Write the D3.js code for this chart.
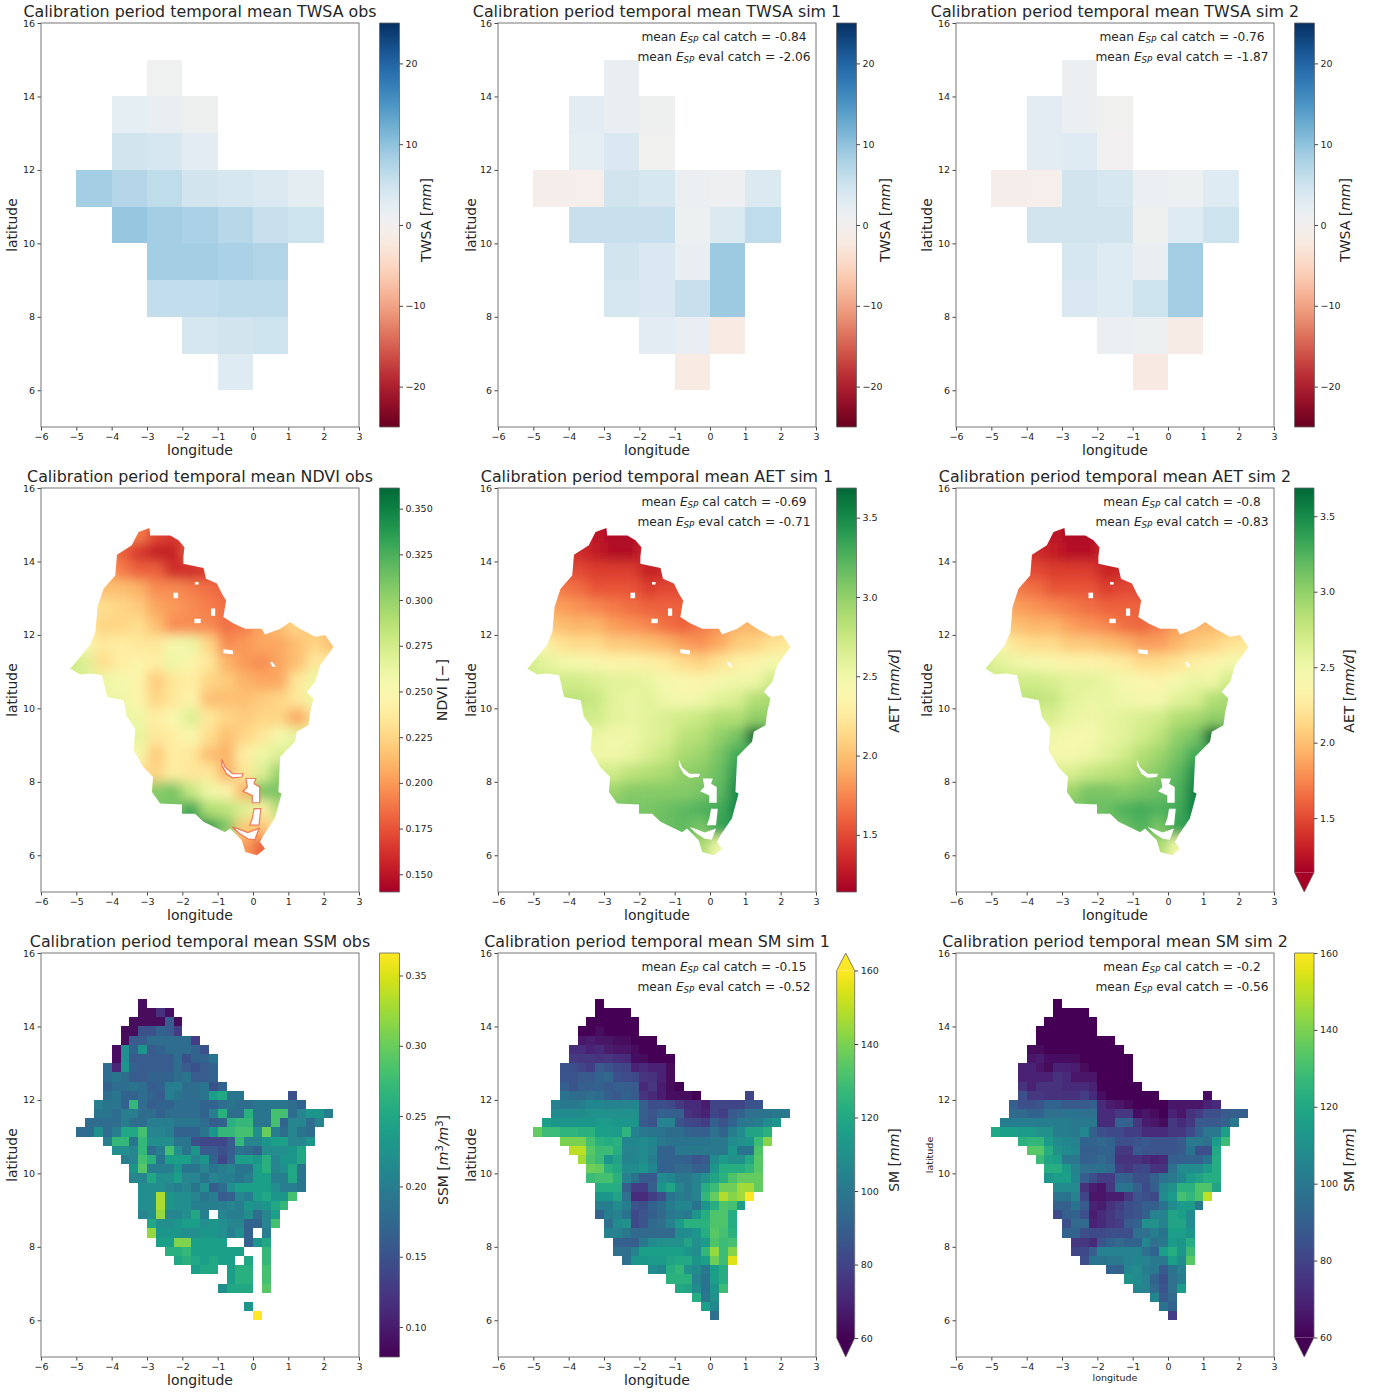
<!DOCTYPE html>
<html>
<head>
<meta charset="utf-8">
<script src="https://cdn.jsdelivr.net/npm/d3@7"></script>
<style>
  body { margin: 0; background: #fff; }
  text { font-family: "DejaVu Sans", sans-serif; fill: #262626; }
</style>
</head>
<body>
<svg id="fig" width="1375" height="1392"></svg>
<script>
var lonTicks = [-6, -5, -4, -3, -2, -1, 0, 1, 2, 3];
var latTicks = [6, 8, 10, 12, 14, 16];

// TWSA: 1 degree cells, each row starts at twsaStart and its top edge is twsaTops
var twsaTops = [15, 14, 13, 12, 11, 10, 9, 8, 7];
var twsaStart = [-3, -4, -4, -5, -4, -3, -3, -2, -1];
var twsaObs = [
  [0.6],
  [2.2, 1.8, 0.8],
  [4.5, 4, 2.6],
  [8.5, 7.2, 6.3, 4.5, 4, 3.5, 2.5],
  [9.5, 8.5, 8, 7, 5.5, 5],
  [8.5, 8.5, 8, 7.5],
  [6, 6, 6.5, 6.5],
  [4, 4.5, 5],
  [3]
];
var twsaSim1 = [
  [1.8],
  [2.6, 1.8, 0.8],
  [2.2, 3.6, 0.4],
  [-1, -0.8, 4.5, 4, 1.3, 1, 3.5],
  [5.5, 5.5, 5.5, 0.9, 3.5, 6.3],
  [4.5, 3.6, 1.8, 9],
  [4, 3.6, 5.5, 9],
  [2.6, 1.8, -1.8],
  [-1.8]
];
var twsaSim2 = [
  [1.3],
  [2.6, 1.3, 0.4],
  [2.6, 3.1, 0.2],
  [-1, -0.8, 4.5, 4, 1.3, 0.9, 3.1],
  [4.5, 4.5, 4.5, 0.7, 3.1, 5],
  [4, 3.1, 1.8, 8.6],
  [3.6, 3.1, 5, 8.6],
  [1.3, 0.9, -1.5],
  [-2]
];

// basin outline and the masked holes, lon/lat
var basinOutline = [
  [-2.93,14.91],[-2.91,14.71],[-2.34,14.71],[-2.11,14.58],[-1.94,14.39],[-1.97,14.12],[-1.97,13.94],[-1.40,13.82],
  [-1.33,13.53],[-1.02,13.40],[-0.88,13.12],[-0.76,12.94],[-0.84,12.49],[-0.55,12.31],[-0.22,12.17],[0.25,12.17],
  [0.34,12.01],[0.77,12.17],[1.05,12.35],[1.33,12.17],[1.76,11.95],[2.04,12.0],[2.28,11.67],[1.90,11.17],
  [1.76,10.72],[1.52,10.45],[1.71,10.27],[1.62,9.90],[1.57,9.54],[1.24,9.36],[1.19,9.09],[0.77,8.68],
  [0.72,7.72],[0.81,7.68],[0.62,7.0],[0.30,6.55],[0.20,6.36],[0.34,6.18],[0.11,6.0],[-0.22,6.09],
  [-0.32,6.41],[-0.65,6.73],[-0.79,6.63],[-1.40,6.91],[-1.64,7.13],[-2.01,7.13],[-2.01,7.38],[-2.63,7.41],
  [-2.86,7.72],[-2.83,8.13],[-3.10,8.40],[-3.38,8.86],[-3.33,9.45],[-3.57,9.77],[-3.66,10.22],[-4.13,10.31],
  [-4.27,10.90],[-4.60,10.95],[-4.89,10.92],[-5.17,11.08],[-4.62,11.72],[-4.46,12.08],[-4.40,12.76],[-4.23,13.26],
  [-3.9,13.62],[-3.85,14.18],[-3.43,14.44],[-3.24,14.80]
];
var holes = [
  [[-2.25,13.15],[-2.12,13.15],[-2.12,13.0],[-2.25,13.0]],
  [[-1.64,13.44],[-1.54,13.44],[-1.54,13.37],[-1.64,13.37]],
  [[-1.19,12.72],[-1.07,12.72],[-1.07,12.52],[-1.19,12.52]],
  [[-1.66,12.44],[-1.48,12.44],[-1.48,12.32],[-1.66,12.32]],
  [[-0.84,11.61],[-0.57,11.58],[-0.57,11.47],[-0.84,11.5]],
  [[0.48,11.26],[0.55,11.26],[0.65,11.13],[0.55,11.13]]
];
var lakeHoles = [
  [[-0.88,8.61],[-0.79,8.40],[-0.58,8.22],[-0.28,8.22],[-0.32,8.13],[-0.58,8.11],[-0.75,8.22],[-0.88,8.45]],
  [[-0.20,8.09],[0.08,8.09],[0.03,7.95],[0.19,7.86],[0.19,7.43],[-0.02,7.43],[-0.02,7.63],[-0.28,7.74],[-0.16,7.86]],
  [[0.03,7.27],[0.22,7.27],[0.17,6.82],[-0.09,6.82],[-0.02,7.0]],
  [[-0.58,6.77],[-0.42,6.72],[-0.15,6.62],[0.17,6.73],[0.05,6.42],[-0.15,6.45],[-0.39,6.6]]
];

// NDVI and AET: half degree samples, lon -5.5..2.5, lat 15.5..5.5, edge values carried past the outline
var coarseTops = [15.5, 15, 14.5, 14, 13.5, 13, 12.5, 12, 11.5, 11, 10.5, 10, 9.5, 9, 8.5, 8, 7.5, 7, 6.5, 6];
var coarseLeft = -5.5;
var ndviObs = [
  [.19,.19,.19,.19,.19,.17,.165,.17,.18,.19,.2,.21,.22,.22,.22,.22],
  [.19,.19,.19,.19,.19,.17,.165,.17,.18,.19,.2,.21,.22,.22,.22,.22],
  [.2,.2,.2,.18,.165,.155,.155,.18,.18,.19,.2,.21,.22,.22,.22,.22],
  [.22,.21,.21,.19,.18,.18,.16,.16,.165,.18,.19,.21,.22,.22,.22,.22],
  [.23,.22,.215,.215,.21,.195,.195,.19,.185,.18,.19,.205,.22,.22,.22,.22],
  [.24,.235,.23,.225,.22,.205,.20,.195,.19,.185,.19,.205,.215,.225,.22,.22],
  [.24,.235,.225,.225,.23,.215,.195,.195,.195,.185,.19,.205,.215,.225,.215,.22],
  [.26,.25,.235,.24,.235,.235,.255,.26,.225,.195,.20,.205,.205,.215,.225,.215],
  [.28,.27,.23,.24,.245,.24,.26,.245,.235,.21,.20,.195,.205,.215,.235,.235],
  [.28,.27,.26,.255,.245,.22,.235,.24,.225,.22,.21,.205,.205,.235,.26,.26],
  [.27,.265,.26,.26,.245,.225,.235,.245,.215,.215,.215,.22,.225,.235,.26,.26],
  [.27,.265,.26,.26,.26,.24,.25,.27,.235,.225,.22,.225,.225,.205,.23,.23],
  [.27,.27,.265,.265,.265,.235,.24,.25,.23,.215,.225,.235,.255,.265,.265,.265],
  [.26,.26,.26,.255,.255,.22,.24,.235,.215,.21,.24,.26,.27,.27,.27,.27],
  [.25,.25,.24,.235,.23,.225,.24,.235,.235,.21,.235,.27,.30,.27,.27,.27],
  [.3,.3,.3,.3,.305,.305,.31,.28,.26,.245,.21,.31,.31,.29,.27,.27],
  [.3,.3,.3,.31,.31,.31,.31,.33,.29,.285,.27,.24,.29,.29,.27,.27],
  [.3,.3,.3,.31,.31,.31,.33,.34,.34,.31,.22,.215,.25,.25,.25,.25],
  [.3,.3,.3,.3,.3,.3,.3,.3,.28,.24,.20,.18,.2,.2,.2,.2],
  [.3,.3,.3,.3,.3,.3,.3,.3,.28,.24,.20,.18,.2,.2,.2,.2]
];
var aetSim1 = [
  [1.4,1.4,1.4,1.35,1.25,1.2,1.18,1.3,1.4,1.5,1.6,1.7,1.8,1.9,2,2],
  [1.4,1.4,1.4,1.35,1.25,1.2,1.18,1.3,1.4,1.5,1.6,1.7,1.8,1.9,2,2],
  [1.5,1.45,1.4,1.35,1.3,1.2,1.2,1.35,1.35,1.45,1.55,1.7,1.8,1.9,2,2],
  [1.6,1.55,1.5,1.5,1.45,1.45,1.45,1.3,1.35,1.45,1.55,1.7,1.8,1.9,2,2],
  [1.75,1.75,1.7,1.65,1.55,1.55,1.55,1.45,1.5,1.5,1.55,1.7,1.8,1.9,2,2],
  [1.9,1.9,1.85,1.8,1.75,1.7,1.65,1.6,1.6,1.6,1.65,1.75,1.85,1.9,2,2],
  [2.05,2.05,2.0,1.95,1.95,1.85,1.8,1.75,1.65,1.6,1.7,1.8,1.95,1.95,2.0,2.05],
  [2.4,2.4,2.2,2.15,2.15,2.05,2.05,2.0,1.95,1.85,1.8,1.9,2.05,2.1,2.2,2.25],
  [2.7,2.6,2.5,2.45,2.4,2.35,2.35,2.3,2.25,2.15,2.1,2.2,2.3,2.35,2.45,2.5],
  [2.75,2.7,2.7,2.7,2.65,2.6,2.6,2.55,2.45,2.4,2.35,2.45,2.5,2.5,2.7,2.7],
  [2.8,2.8,2.8,2.8,2.75,2.6,2.55,2.6,2.5,2.45,2.5,2.6,2.65,2.85,2.9,2.9],
  [2.7,2.7,2.7,2.7,2.7,2.6,2.55,2.6,2.65,2.7,2.75,2.85,2.85,3.0,3.0,3.0],
  [2.55,2.55,2.55,2.55,2.55,2.5,2.5,2.6,2.65,2.8,2.85,3.0,3.1,3.69,3.5,3.5],
  [2.5,2.5,2.5,2.5,2.5,2.5,2.55,2.65,2.75,2.9,2.95,3.1,3.3,3.3,3.3,3.3],
  [2.7,2.7,2.7,2.7,2.7,2.7,2.8,2.85,2.9,3.0,3.05,3.15,3.4,3.4,3.4,3.4],
  [2.95,2.95,2.95,2.95,2.95,2.95,3.05,3.05,3.05,3.05,3.1,3.2,3.5,3.5,3.5,3.5],
  [3.1,3.1,3.1,3.1,3.1,3.1,3.1,3.1,3.15,3.2,3.25,3.3,3.5,3.5,3.5,3.5],
  [3.1,3.1,3.1,3.1,3.1,3.1,3.1,3.1,3.15,3.2,3.1,3.35,3.4,3.4,3.4,3.4],
  [3.0,3.0,3.0,3.0,3.0,3.0,3.0,3.0,3.0,3.0,2.9,2.5,2.5,2.5,2.5,2.5],
  [3.0,3.0,3.0,3.0,3.0,3.0,3.0,3.0,3.0,3.0,2.8,2.45,2.45,2.45,2.45,2.45]
];
var aetSim2 = [
  [1.4,1.4,1.4,1.35,1.25,1.2,1.2,1.3,1.4,1.5,1.6,1.7,1.8,1.9,2,2],
  [1.4,1.4,1.4,1.35,1.25,1.2,1.2,1.3,1.4,1.5,1.6,1.7,1.8,1.9,2,2],
  [1.5,1.45,1.4,1.35,1.3,1.22,1.22,1.35,1.35,1.45,1.55,1.7,1.8,1.9,2,2],
  [1.6,1.55,1.5,1.5,1.45,1.45,1.45,1.32,1.35,1.45,1.55,1.7,1.8,1.9,2,2],
  [1.75,1.75,1.7,1.65,1.55,1.55,1.55,1.45,1.5,1.5,1.55,1.7,1.8,1.9,2,2],
  [1.95,1.95,1.85,1.8,1.75,1.7,1.65,1.6,1.6,1.6,1.65,1.75,1.85,1.9,2,2],
  [2.05,2.05,2.0,1.95,1.95,1.85,1.8,1.75,1.65,1.62,1.72,1.85,1.95,1.95,2.0,2.05],
  [2.4,2.4,2.2,2.15,2.15,2.05,2.05,2.0,1.95,1.85,1.85,1.95,2.05,2.1,2.2,2.25],
  [2.7,2.6,2.5,2.45,2.4,2.35,2.35,2.3,2.25,2.15,2.15,2.2,2.3,2.35,2.45,2.5],
  [2.75,2.7,2.7,2.7,2.65,2.6,2.6,2.55,2.45,2.4,2.35,2.45,2.55,2.5,2.7,2.7],
  [2.8,2.8,2.8,2.8,2.75,2.6,2.55,2.55,2.5,2.45,2.45,2.6,2.65,2.85,2.9,2.9],
  [2.65,2.65,2.65,2.65,2.65,2.55,2.5,2.55,2.6,2.65,2.7,2.85,2.9,3.0,3.0,3.0],
  [2.5,2.5,2.5,2.5,2.5,2.45,2.45,2.55,2.6,2.7,2.8,3.0,3.1,3.69,3.5,3.5],
  [2.45,2.45,2.45,2.45,2.45,2.45,2.5,2.6,2.7,2.85,2.95,3.1,3.3,3.3,3.3,3.3],
  [2.65,2.65,2.65,2.65,2.65,2.65,2.75,2.8,2.85,2.95,3.05,3.2,3.45,3.45,3.45,3.45],
  [2.95,2.95,2.95,2.95,2.95,2.95,3.1,3.1,3.05,3.1,3.15,3.25,3.55,3.55,3.55,3.55],
  [3.1,3.1,3.1,3.1,3.1,3.1,3.15,3.15,3.25,3.3,3.25,3.3,3.55,3.55,3.55,3.55],
  [3.1,3.1,3.1,3.1,3.1,3.1,3.1,3.1,3.15,3.25,3.1,3.35,3.4,3.4,3.4,3.4],
  [3.0,3.0,3.0,3.0,3.0,3.0,3.0,3.0,3.0,3.0,2.9,2.5,2.5,2.5,2.5,2.5],
  [3.0,3.0,3.0,3.0,3.0,3.0,3.0,3.0,3.0,3.0,2.8,2.45,2.45,2.45,2.45,2.45]
];

// SSM and SM: quarter degree cells, top edge smTops, first cell smStart
var smTops = [14.75,14.5,14.25,14,13.75,13.5,13.25,13,12.75,12.5,12.25,12,11.75,11.5,11.25,11,10.75,10.5,10.25,10,9.75,9.5,9.25,9,8.75,8.5,8.25,8,7.75,7.5,7.25,7,6.75,6.5,6.25];
var smStart = [-3.25,-3.25,-3.5,-3.75,-3.75,-4,-4,-4.25,-4.25,-4.25,-4.25,-4.5,-4.5,-4.75,-5,-4.25,-4,-3.75,-3.5,-3.5,-3.25,-3.25,-3.25,-3.25,-3,-3,-2.75,-2.75,-2.5,-1.75,-1.25,-1,-0.5,-0.25,0];
var n = null;
var ssmObs = [
  [.09],
  [.085,.085,.12,.09],
  [.085,.085,.085,.085,.16,.085],
  [.085,.085,.15,.15,.17,.16,.13],
  [.085,.16,.16,.18,.18,.18,.18,.18,.13],
  [.09,.22,.17,.23,.16,.17,.18,.18,.18,.17,.15],
  [.09,.22,.16,.16,.16,.16,.16,.18,.15,.17,.17,.19],
  [.18,.11,.23,.17,.16,.16,.16,.16,.18,.16,.15,.16,.17],
  [.18,.19,.18,.16,.16,.17,.17,.17,.18,.19,.16,.16,.17],
  [.17,.18,.18,.19,.18,.16,.17,.20,.20,.18,.18,.19,.15,.17],
  [.18,.19,.17,.17,.18,.17,.16,.20,.19,.18,.18,.19,.24,.25,.19,.19,n,n,n,n,n,.15],
  [.20,.19,.19,.17,.27,.18,.16,.17,.17,.18,.18,.18,.17,.17,.18,.19,.18,.18,.19,.19,.19,.19,.18,.17],
  [.19,.19,.18,.20,.20,.18,.18,.17,.18,.18,.18,.18,.17,.20,.26,.18,.18,.26,.19,.19,.28,.28,.18,.21,.23,.23,.20],
  [.18,.18,.18,.18,.20,.18,.18,.20,.20,.20,.19,.19,.19,.18,.16,.17,.26,.27,.27,.19,.19,.28,.17,.21,.21,.18,.21],
  [.18,.18,.22,.18,.20,.25,.25,.28,.21,.21,.20,.17,.17,.17,.19,.23,.27,.27,.28,.28,.22,.30,.20,.18,.21,.19,.18],
  [.20,.27,.27,.19,.27,.22,.22,.22,.19,.19,.15,.14,.14,.14,.16,.27,.21,.21,.23,.24,.24,.21,.21,.23],
  [.22,.22,.21,.27,.18,.20,.28,.22,.19,.23,.16,.16,.15,.16,.19,.18,.17,.22,.22,.22,.23,.25],
  [.20,.21,.28,.26,.19,.24,.24,.24,.21,.23,.17,.14,.17,.24,.24,.23,.26,.21,.23,.23,.25],
  [.23,.29,.20,.20,.20,.23,.19,.19,.21,.19,.20,.21,.19,.19,.24,.26,.21,.22,.25,.19],
  [.21,.21,.25,.22,.22,.24,.21,.21,.19,.21,.20,.20,.19,.20,.24,.24,.20,.20,.25,.19],
  [.22,.22,.22,.21,.20,.21,.19,.22,.16,.18,.22,.24,.24,.24,.24,.22,.20,.20,.19],
  [.22,.22,.33,.23,.22,.22,.21,.19,.20,.16,.17,.21,.20,.24,.25,.23,.23,.28],
  [.22,.22,.33,.23,.22,.22,.20,.20,.20,.20,.21,.20,.23,.22,.23,.25,.27],
  [.21,.22,.32,.21,.21,.22,.25,.20,n,.21,.20,.20,.22,.18,.21,.24],
  [.25,.22,.22,.23,.24,.24,.22,.23,.22,.21,.21,.17,.17,.21,.28],
  [.32,.23,.23,.23,.22,.22,.23,.23,.22,.20,.22,.17,n,.20,n],
  [.24,.24,.31,.31,.24,.24,.24,.24,n,n,.17,.23,.25,n],
  [n,.26,.26,.27,.24,.24,.24,.24,.24,.24,n,n,.27,n],
  [n,.25,.26,.25,.24,.25,.24,.24,n,.25,n,.27,n],
  [.24,.25,.25,n,.24,.26,.26,n,.28],
  [n,n,.24,.26,.26,n,.28],
  [.22,.25,.25,.25,n,.29],
  [n,n,n],
  [.23,n],
  [.367]
];
var smSim1 = [
  [60],
  [60,60,60,60],
  [60,60,60,60,60,60],
  [60,60,63,60,60,60,60],
  [66,68,66,65,63,62,60,60,60],
  [73,73,70,72,67,66,66,62,60,60,60],
  [77,76,76,74,75,73,72,64,62,60,60,60],
  [85,84,80,78,88,85,82,80,70,72,70,70,62],
  [86,86,88,88,92,93,84,83,82,75,74,70,62],
  [90,85,90,90,92,88,90,90,88,72,75,68,62,60],
  [98,95,94,96,95,90,88,92,88,75,72,68,63,63,63,60,n,n,n,n,n,80],
  [103,100,100,102,106,106,104,104,105,106,90,84,84,82,76,72,72,68,80,80,80,80,85,85],
  [108,108,108,108,110,110,110,110,110,110,90,86,92,90,90,74,72,70,80,78,88,92,96,97,98,100,100],
  [116,112,112,112,112,112,114,114,112,112,112,88,85,104,104,85,82,80,78,90,85,92,100,100,102,108,112],
  [136,128,128,125,125,123,124,116,116,114,125,104,100,98,98,95,95,92,90,90,96,92,102,108,118,118,124],
  [140,140,140,130,124,122,124,106,106,108,106,100,98,98,98,98,98,100,100,108,110,112,128,142],
  [150,150,134,128,128,122,105,105,108,104,92,92,100,100,100,100,100,100,112,98,98,132],
  [146,132,128,112,118,104,106,108,102,92,92,92,90,86,88,108,114,110,110,120,134],
  [138,136,124,120,108,108,112,106,92,92,94,94,90,92,112,122,122,122,126,134],
  [128,130,130,124,104,98,88,88,108,106,100,100,104,110,118,124,132,136,136,136],
  [122,122,122,90,78,78,90,112,118,105,100,105,122,128,138,138,146,146,136],
  [112,112,118,96,72,72,78,84,98,102,100,104,126,136,148,142,146,160],
  [102,102,108,102,86,84,92,95,102,106,106,98,112,122,132,130,115],
  [92,102,104,98,82,86,90,94,100,102,100,112,122,132,132,122],
  [96,108,110,82,86,94,96,104,114,124,124,124,132,132,122],
  [104,104,100,94,94,94,94,94,108,108,112,122,134,130,124],
  [92,90,90,100,108,110,110,110,118,110,114,132,128,130],
  [96,96,104,116,116,116,116,116,112,108,126,144,128,142],
  [96,112,112,114,114,118,120,120,112,116,138,128,155],
  [108,106,122,126,110,108,100,116,122],
  [124,124,124,104,98,116,122],
  [120,118,108,98,112,128],
  [122,100,110],
  [116,106],
  [96]
];
var smSim2 = [
  [60],
  [60,60,60,60],
  [60,60,60,60,60,60],
  [60,60,60,60,60,60,60],
  [60,60,60,60,60,60,60,60,60],
  [62,62,60,60,60,60,60,60,60,60,60],
  [66,68,64,64,64,62,60,60,60,60,60,60],
  [70,70,66,62,70,70,68,62,60,60,60,60,60],
  [70,70,70,70,74,72,66,66,66,60,60,60,60],
  [74,70,74,74,74,72,72,72,70,60,60,60,60,60],
  [84,76,76,74,74,74,74,78,72,64,60,60,60,60,60,60,n,n,n,n,n,64],
  [90,84,84,86,92,92,88,88,88,90,72,68,66,62,60,60,60,60,66,66,66,66,70,72],
  [94,94,92,92,96,96,98,98,96,96,72,72,76,76,64,66,62,60,70,66,74,78,84,84,88,90,90],
  [102,102,102,102,102,102,102,102,100,100,100,72,72,92,92,76,68,66,62,76,72,76,88,88,88,92,100],
  [120,116,116,114,114,110,110,102,102,100,106,90,84,82,82,78,78,72,72,72,76,76,82,92,100,100,116],
  [124,126,126,114,108,106,104,92,92,94,92,84,84,86,88,86,86,86,88,100,100,96,114,128],
  [134,134,122,110,108,106,90,90,92,92,76,76,88,86,86,86,86,88,98,84,84,120],
  [128,118,116,100,100,90,92,94,90,74,74,74,72,70,72,90,90,92,92,98,122],
  [122,122,114,104,96,96,98,94,78,76,80,82,74,74,96,108,108,108,114,122],
  [112,116,116,106,90,84,78,78,92,90,84,84,90,98,100,106,114,118,122,122],
  [108,108,108,74,68,66,76,98,98,90,82,90,106,110,124,124,132,132,118],
  [98,98,104,80,66,66,68,68,76,86,84,82,108,114,130,126,132,150],
  [90,90,98,88,70,68,74,78,84,86,90,90,98,108,114,114,100],
  [82,90,92,84,68,72,76,80,84,86,90,104,104,118,116,108],
  [84,94,94,70,72,76,78,88,92,110,110,104,118,118,108],
  [92,92,84,82,82,84,84,84,96,96,102,98,116,116,112],
  [76,76,72,86,92,94,92,92,106,96,100,114,112,122],
  [80,82,90,104,104,104,104,104,96,92,116,122,112,128],
  [84,98,98,100,100,104,106,104,100,100,116,108,134],
  [92,90,106,108,102,100,88,98,104],
  [110,108,104,92,84,96,102],
  [106,104,94,86,96,114],
  [106,88,94],
  [98,92],
  [78]
];

var twsaColor = d3.scaleSequential(d3.interpolateRdBu).domain([-25, 25]);
var ndviColor = d3.scaleSequential(d3.interpolateRdYlGn).domain([0.1403, 0.3613]).clamp(true);
var aetColor = d3.scaleSequential(d3.interpolateRdYlGn).domain([1.14, 3.687]).clamp(true);
var ssmColor = d3.scaleSequential(d3.interpolateViridis).domain([0.0787, 0.366]).clamp(true);
var smColor = d3.scaleSequential(d3.interpolateViridis).domain([60, 160]).clamp(true);

var colX = [41, 498, 956];
var rowY = [23, 488, 953];
var axW = 318, axH = 404;
var barGap = 338.5;

var panels = [
  {c:0, r:0, title:"TWSA obs", kind:"cells", rows:twsaObs, tops:twsaTops, start:twsaStart, step:1, color:twsaColor, ticks:[-20,-10,0,10,20], label:"TWSA", unit:"mm", lx:425, ly:197},
  {c:1, r:0, title:"TWSA sim 1", kind:"cells", rows:twsaSim1, tops:twsaTops, start:twsaStart, step:1, color:twsaColor, ticks:[-20,-10,0,10,20], label:"TWSA", unit:"mm", lx:884, ly:197, esp:["-0.84","-2.06"]},
  {c:2, r:0, title:"TWSA sim 2", kind:"cells", rows:twsaSim2, tops:twsaTops, start:twsaStart, step:1, color:twsaColor, ticks:[-20,-10,0,10,20], label:"TWSA", unit:"mm", lx:1344, ly:197, esp:["-0.76","-1.87"]},
  {c:0, r:1, title:"NDVI obs", kind:"smooth", rows:ndviObs, color:ndviColor, ticks:[.15,.175,.2,.225,.25,.275,.3,.325,.35], fmt:".3f", label:"NDVI", plain:"[−]", lx:441, ly:202, lakeEdge:true},
  {c:1, r:1, title:"AET sim 1", kind:"smooth", rows:aetSim1, color:aetColor, ticks:[1.5,2,2.5,3,3.5], fmt:".1f", label:"AET", unit:"mm/d", lx:893, ly:203, esp:["-0.69","-0.71"]},
  {c:2, r:1, title:"AET sim 2", kind:"smooth", rows:aetSim2, color:aetColor, ticks:[1.5,2,2.5,3,3.5], fmt:".1f", label:"AET", unit:"mm/d", lx:1348, ly:203, esp:["-0.8","-0.83"], ext:"low"},
  {c:0, r:2, title:"SSM obs", kind:"cells", rows:ssmObs, tops:smTops, start:smStart, step:.25, color:ssmColor, ticks:[.1,.15,.2,.25,.3,.35], fmt:".2f", label:"SSM", unit:"m³", lx:442, ly:207, ssm:true},
  {c:1, r:2, title:"SM sim 1", kind:"cells", rows:smSim1, tops:smTops, start:smStart, step:.25, color:smColor, ticks:[60,80,100,120,140,160], label:"SM", unit:"mm", lx:893, ly:207, esp:["-0.15","-0.52"], ext:"both"},
  {c:2, r:2, title:"SM sim 2", kind:"cells", rows:smSim2, tops:smTops, start:smStart, step:.25, color:smColor, ticks:[60,80,100,120,140,160], label:"SM", unit:"mm", lx:1348, ly:207, esp:["-0.2","-0.56"], ext:"low", small:true}
];

var svg = d3.select("#fig");
var defs = svg.append("defs");
defs.append("filter").attr("id", "smooth").attr("x", "-5%").attr("y", "-5%").attr("width", "110%").attr("height", "110%")
  .append("feGaussianBlur").attr("stdDeviation", 6);
defs.append("filter").attr("id", "soft")
  .append("feGaussianBlur").attr("stdDeviation", 0.45);

panels.forEach(function(p, i) {
  var x0 = colX[p.c], y0 = rowY[p.r];
  var x = d3.scaleLinear().domain([-6, 3]).range([0, axW]);
  var y = d3.scaleLinear().domain([5, 16]).range([axH, 0]);
  var g = svg.append("g").attr("transform", "translate(" + x0 + "," + y0 + ")");

  if (p.kind == "cells") {
    var cells = [];
    p.rows.forEach(function(row, ri) {
      row.forEach(function(v, ci) {
        if (v !== null) cells.push({lon: p.start[ri] + ci * p.step, top: p.tops[ri], v: v});
      });
    });
    g.append("g").attr("filter", "url(#soft)").selectAll("rect").data(cells).join("rect")
      .attr("x", d => x(d.lon))
      .attr("y", d => y(d.top))
      .attr("width", d => x(d.lon + p.step) - x(d.lon))
      .attr("height", d => y(d.top - p.step) - y(d.top))
      .attr("fill", d => p.color(d.v))
      .attr("shape-rendering", "crispEdges");
  } else {
    var clipId = "basin" + i;
    var line = d3.line().x(d => x(d[0])).y(d => y(d[1])).curve(d3.curveLinearClosed);
    defs.append("clipPath").attr("id", clipId).append("path").attr("d", line(basinOutline));
    var cells = [];
    p.rows.forEach(function(row, ri) {
      row.forEach(function(v, ci) {
        cells.push({lon: coarseLeft + ci * 0.5, top: coarseTops[ri], v: v});
      });
    });
    var clipped = g.append("g").attr("clip-path", "url(#" + clipId + ")");
    clipped.append("g").attr("filter", "url(#smooth)").selectAll("rect").data(cells).join("rect")
      .attr("x", d => x(d.lon))
      .attr("y", d => y(d.top))
      .attr("width", d => x(d.lon + 0.5) - x(d.lon) + 0.5)
      .attr("height", d => y(d.top - 0.5) - y(d.top) + 0.5)
      .attr("fill", d => p.color(d.v));
    g.selectAll("path.hole").data(holes).join("path").attr("class", "hole")
      .attr("d", line).attr("fill", "#fff");
    g.selectAll("path.lake").data(lakeHoles).join("path").attr("class", "lake")
      .attr("d", line).attr("fill", "#fff")
      .attr("stroke", p.lakeEdge ? "#e8553a" : "none").attr("stroke-width", 1.2).attr("stroke-opacity", 0.75);
  }

  // axes
  var ax = g.append("g").attr("transform", "translate(0," + axH + ")")
    .call(d3.axisBottom(x).tickValues(lonTicks).tickSize(3.5).tickPadding(2.5));
  var ay = g.append("g").call(d3.axisLeft(y).tickValues(latTicks).tickSize(3.5).tickPadding(2.5));
  [ax, ay].forEach(function(a) {
    a.selectAll("text").style("font-size", "9.5px").style("font-family", '"DejaVu Sans"').attr("fill", "#333");
    a.selectAll("line").attr("stroke", "#444");
    a.select(".domain").remove();
  });
  g.append("rect").attr("width", axW).attr("height", axH).attr("fill", "none").attr("stroke", "#777").attr("stroke-width", 1);

  // labels
  svg.append("text").attr("x", x0 + axW / 2).attr("y", y0 - 6).attr("text-anchor", "middle").style("font-size", "15.85px")
    .text("Calibration period temporal mean " + p.title);
  var labelSize = p.small ? "9.5px" : "14px";
  var latOffset = p.small ? 23 : (p.c == 1 ? 22.5 : 24);
  svg.append("text").attr("x", x0 + axW / 2).attr("y", y0 + axH + (p.small ? 24 : 28)).attr("text-anchor", "middle").style("font-size", labelSize).text("longitude");
  svg.append("text").attr("transform", "translate(" + (x0 - latOffset) + "," + (y0 + axH / 2) + ") rotate(-90)")
    .attr("text-anchor", "middle").style("font-size", labelSize).text("latitude");

  if (p.esp) {
    ["cal", "eval"].forEach(function(name, k) {
      var t = svg.append("text").attr("x", x0 + 226).attr("y", y0 + 18 + k * 20.2).attr("text-anchor", "middle").style("font-size", "12.2px");
      t.append("tspan").text("mean ");
      t.append("tspan").style("font-style", "italic").text("E");
      t.append("tspan").style("font-style", "italic").style("font-size", "8.7px").attr("dy", 2).text("SP");
      t.append("tspan").attr("dy", -2).text(" " + name + " catch = " + p.esp[k]);
    });
  }

  // colorbar
  var barTop = y0, barBottom = y0 + axH, bx = x0 + barGap, bw = 20;
  if (p.ext == "both") { barTop = y0 + 17.5; barBottom = y0 + 385; bx = x0 + 338.7; bw = 18; }
  if (p.ext == "low") { barBottom = y0 + 384.5; bw = 19.5; }
  var barScale = d3.scaleLinear().domain(p.color.domain()).range([barBottom, barTop]);
  var gradId = "grad" + i;
  var grad = defs.append("linearGradient").attr("id", gradId).attr("x1", 0).attr("y1", 1).attr("x2", 0).attr("y2", 0);
  d3.range(0, 1.0001, 1 / 40).forEach(function(t) {
    grad.append("stop").attr("offset", t).attr("stop-color", p.color(p.color.domain()[0] + t * (p.color.domain()[1] - p.color.domain()[0])));
  });
  var shape = [[bx, barTop], [bx + bw, barTop], [bx + bw, barBottom], [bx, barBottom]];
  if (p.ext == "both" || p.ext == "low") {
    svg.append("polygon").attr("points", [[bx, barBottom], [bx + bw, barBottom], [bx + bw / 2, y0 + axH]].join(" ")).attr("fill", p.color(p.color.domain()[0]));
    shape = [[bx, barTop], [bx + bw, barTop], [bx + bw, barBottom], [bx + bw / 2, y0 + axH], [bx, barBottom]];
  }
  if (p.ext == "both") {
    svg.append("polygon").attr("points", [[bx, barTop], [bx + bw, barTop], [bx + bw / 2, y0]].join(" ")).attr("fill", p.color(p.color.domain()[1]));
    shape = [[bx + bw / 2, y0], [bx + bw, barTop], [bx + bw, barBottom], [bx + bw / 2, y0 + axH], [bx, barBottom], [bx, barTop]];
  }
  svg.append("rect").attr("x", bx).attr("y", barTop).attr("width", bw).attr("height", barBottom - barTop).attr("fill", "url(#" + gradId + ")");
  svg.append("polygon").attr("points", shape.join(" ")).attr("fill", "none").attr("stroke", "#666").attr("stroke-width", 0.8);

  var fmt = p.fmt ? d3.format(p.fmt) : d3.format("d");
  var bar = svg.append("g").attr("transform", "translate(" + (bx + bw) + ",0)")
    .call(d3.axisRight(barScale).tickValues(p.ticks).tickFormat(fmt).tickSize(3.5).tickPadding(2.5));
  bar.select(".domain").remove();
  bar.selectAll("text").style("font-size", "9.5px").style("font-family", '"DejaVu Sans"').attr("fill", "#333");
  bar.selectAll("line").attr("stroke", "#444");

  // colorbar label with its italic unit
  var lab = svg.append("text").attr("transform", "translate(" + (p.lx + 5.5) + "," + (y0 + p.ly) + ") rotate(-90)")
    .attr("text-anchor", "middle").style("font-size", "14px");
  lab.append("tspan").text(p.label + " ");
  if (p.plain) lab.append("tspan").text(p.plain);
  else if (p.ssm) {
    lab.append("tspan").text("[");
    lab.append("tspan").style("font-style", "italic").text("m");
    lab.append("tspan").style("font-size", "10px").attr("dy", -5).text("3");
    lab.append("tspan").attr("dy", 5).style("font-style", "italic").text("/m");
    lab.append("tspan").style("font-size", "10px").attr("dy", -5).text("3");
    lab.append("tspan").attr("dy", 5).text("]");
  } else {
    lab.append("tspan").text("[");
    lab.append("tspan").style("font-style", "italic").text(p.unit);
    lab.append("tspan").text("]");
  }
});
</script>
</body>
</html>
